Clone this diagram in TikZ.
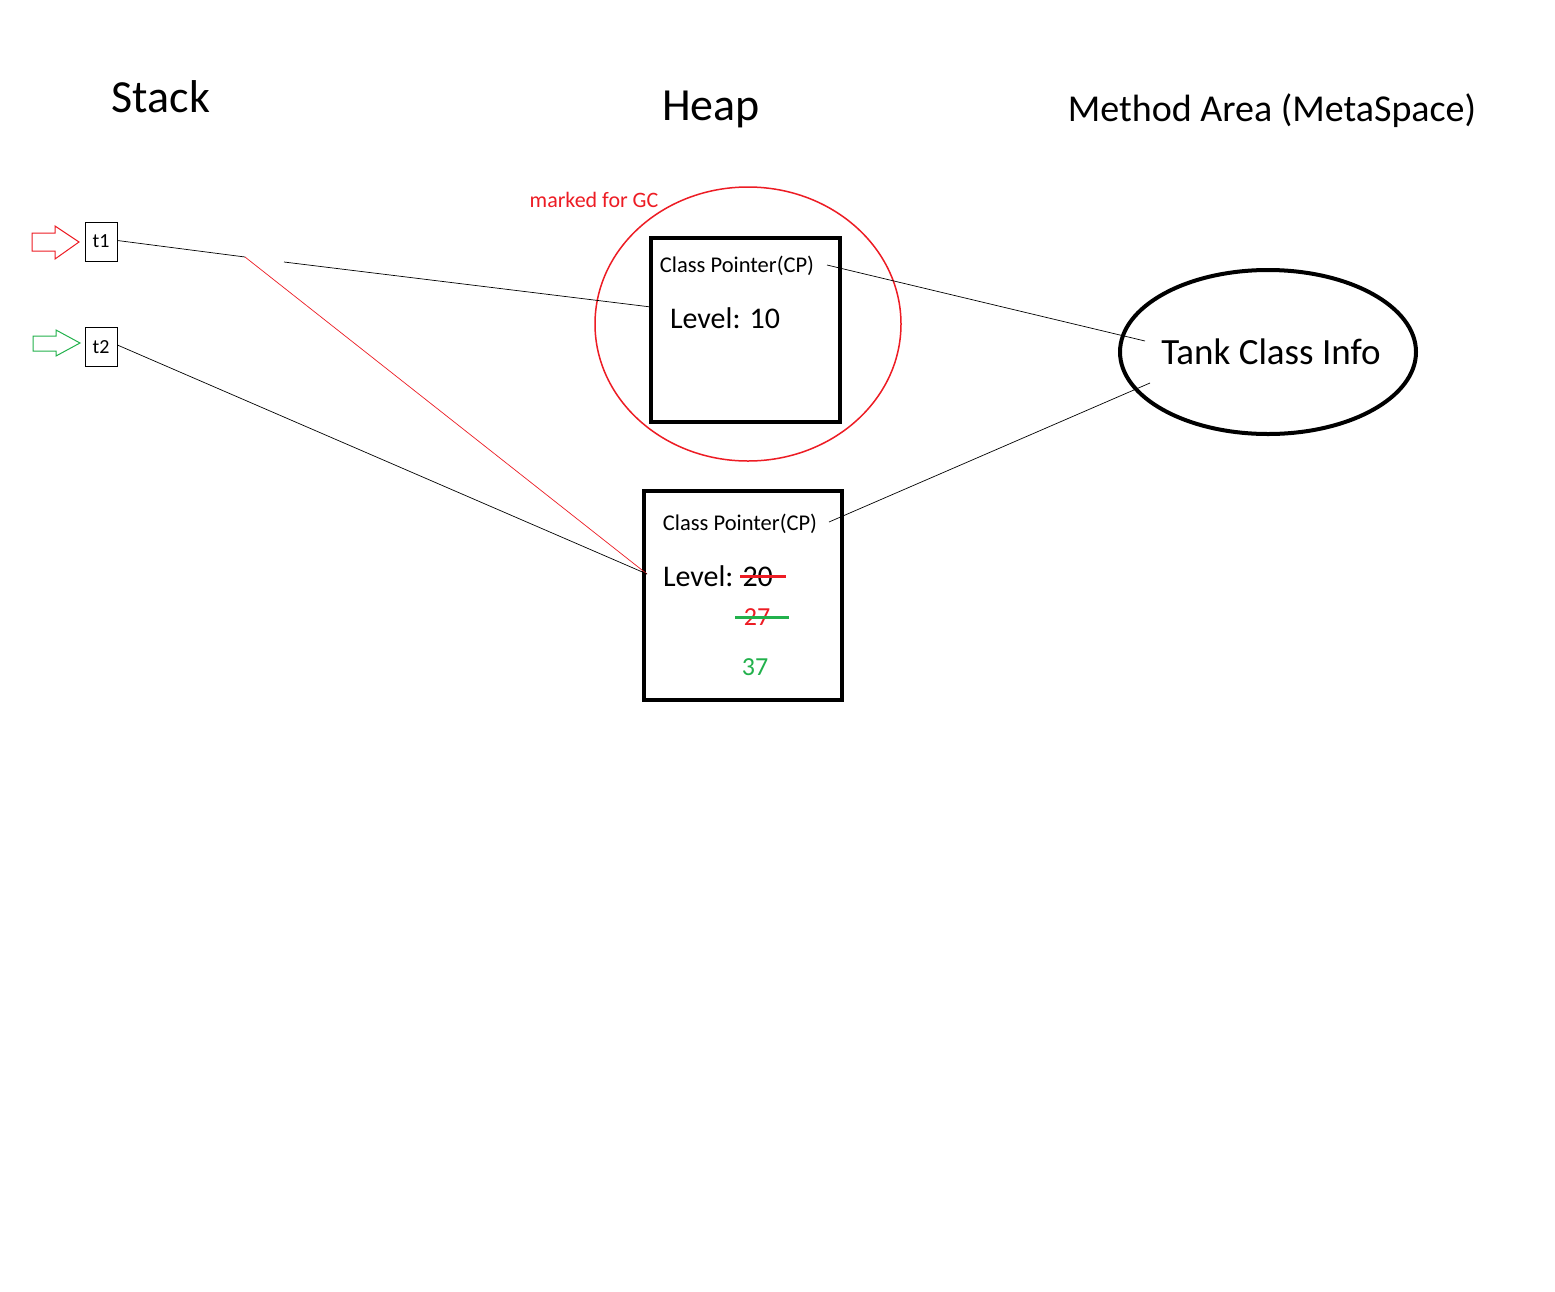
\documentclass[tikz,border=0pt]{standalone}
\usepackage{fontspec}
\setmainfont{Carlito}
\usetikzlibrary{calc,shapes.geometric}
\definecolor{pred}{RGB}{237,28,36}
\definecolor{pgreen}{RGB}{34,177,76}
\newcommand{\fs}[1]{\fontsize{#1}{#1}\selectfont}
\begin{document}
\begin{tikzpicture}[x=1pt,y=-1pt,
  txt/.style={inner sep=0pt, outer sep=0pt},
  varbox/.style={draw=black, line width=0.8pt, minimum width=32pt, minimum height=39pt, inner sep=0pt, font=\fs{20}},
  objbox/.style={draw=black, line width=4pt, inner sep=0pt},
  link/.style={draw=black, line width=0.7pt},
  redlink/.style={draw=pred, line width=0.7pt}]
\useasboundingbox (0,0) rectangle (1555,1291);
\fill[white] (0,0) rectangle (1555,1291);

% titles
\node[txt, font=\fs{46}] (stack) at (161,97) {Stack};
\node[txt, font=\fs{46}] (heap) at (711,109) {Heap};
\node[txt, font=\fs{38}] (meth) at (1272,111) {Method Area (MetaSpace)};

% stack variables
\node[varbox] (t1) at (101,241.5) {t1};
\node[varbox] (t2) at (101,347) {t2};

% hollow arrows
\draw[pred, line width=1pt] (32,233) -- (55,233) -- (55,226) -- (79,242) -- (55,259) -- (55,251) -- (32,251) -- cycle;
\draw[pgreen, line width=1pt] (33,336) -- (56,336) -- (56,330) -- (80,343) -- (56,356) -- (56,351) -- (33,351) -- cycle;

% heap object 1 (marked for GC)
\node[draw=pred, line width=1.5pt, ellipse, minimum width=306pt, minimum height=274pt, inner sep=0pt] (gc) at (748,324) {};
\node[txt, font=\fs{22}, text=pred] (gclabel) at (594,200) {marked for GC};
\node[objbox, minimum width=189pt, minimum height=184pt] (obj1) at (745.5,330) {};
\node[txt, font=\fs{22.5}] (cp1) at (737,266) {Class Pointer(CP)};
\node[txt, font=\fs{30}] (lv1) at (725,318) {Level: 10};

% heap object 2
\node[objbox, minimum width=198pt, minimum height=209pt] (obj2) at (743,595.5) {};
\node[txt, font=\fs{22.5}] (cp2) at (740,524) {Class Pointer(CP)};
\node[txt, font=\fs{30}, anchor=west] (lv2) at (663,576) {Level: 20};
\draw[pred, line width=3pt] (740,576) -- (786,576);
\node[txt, font=\fs{26}, text=pred] (v27) at (757,617) {27};
\draw[pgreen, line width=3pt] (735,617) -- (789,617);
\node[txt, font=\fs{26}, text=pgreen] (v37) at (755,667) {37};

% method area
\node[draw=black, line width=4pt, ellipse, minimum width=296pt, minimum height=164pt, inner sep=0pt] (tank) at (1268,352) {};
\node[txt, font=\fs{37}] (tanklbl) at (1271,352) {Tank Class Info};

% connectors
\coordinate (bend) at (245,257);
\coordinate (old1) at (284,262);
\coordinate (o1in) at (651,307);
\coordinate (o2in) at (647,574);
\coordinate (cp1out) at (827,265);
\coordinate (cp2out) at (829,522);
\coordinate (tin1) at (1145,341);
\coordinate (tin2) at (1150,383);
\draw[link] (t1.east) ++(0,-1) -- (bend);
\draw[redlink] (bend) -- (o2in);
\draw[link] (old1) -- (o1in);
\draw[link] (t2.east) ++(0,-2) -- (o2in);
\draw[link] (cp1out) -- (tin1);
\draw[link] (cp2out) -- (tin2);
\end{tikzpicture}
\end{document}
